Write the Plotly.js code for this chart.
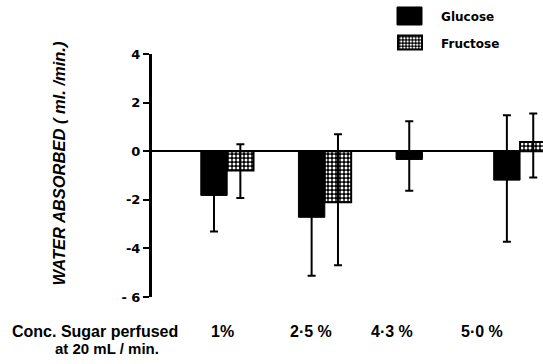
<!DOCTYPE html>
<html><head><meta charset="utf-8">
<script src="https://cdn.plot.ly/plotly-3.0.1.min.js"></script>
<style>html,body{margin:0;padding:0;background:#fff}#chart{width:543px;height:364px}</style>
</head><body><div id="chart"></div>
<script>
const categories = ['1%', '2·5 %', '4·3 %', '5·0 %'];
const glucose = [-1.82, -2.72, -0.34, -1.19];
const glucoseErrUp = [1.48, 2.41, 1.57, 2.67];
const glucoseErrDown = [1.48, 2.41, 1.29, 2.54];
const fructose = [-0.79, -2.10, null, 0.38];
const fructoseErrUp = [1.08, 2.8, null, 1.17];
const fructoseErrDown = [1.14, 2.59, null, 1.46];
const yTicks = [4, 2, 0, -2, -4, -6];
const yTickText = ['4', '2', '0', '-2', '-4', '- 6'];
const labelOffsets = [-0.05, -0.14, -0.31, -0.39];

const xs = categories.map((_, i) => i);
const font = 'Liberation Sans, Arial, sans-serif';
const lfont = 'DejaVu Sans, sans-serif';

const traces = [
  {type: 'bar', name: 'Glucose', x: xs, y: glucose, legend: 'legend',
   marker: {color: '#000', line: {color: '#000', width: 1}},
   error_y: {type: 'data', symmetric: false, array: glucoseErrUp, arrayminus: glucoseErrDown,
             color: '#000', thickness: 2, width: 4}},
  {type: 'bar', name: 'Fructose', x: xs, y: fructose, legend: 'legend2',
   marker: {color: '#000', line: {color: '#000', width: 2},
            pattern: {shape: '.', fgcolor: '#fff', bgcolor: '#000', size: 4, solidity: 0.45}},
   error_y: {type: 'data', symmetric: false, array: fructoseErrUp, arrayminus: fructoseErrDown,
             color: '#000', thickness: 2, width: 4}}
];

const annotations = categories.map((c, i) => ({
  text: c, x: i + labelOffsets[i], xref: 'x', y: -0.14, yref: 'paper',
  xanchor: 'center', yanchor: 'middle', showarrow: false,
  font: {family: font, size: 16, weight: 'bold', color: '#000'}
}));
annotations.push(
  {text: 'Conc. Sugar perfused', x: -0.146, xref: 'paper', y: -0.14, yref: 'paper',
   xanchor: 'center', yanchor: 'middle', showarrow: false,
   font: {family: font, size: 16, weight: 'bold', color: '#000'}},
  {text: 'at 20 mL / min.', x: -0.115, xref: 'paper', y: -0.21, yref: 'paper',
   xanchor: 'center', yanchor: 'middle', showarrow: false,
   font: {family: font, size: 15, weight: 'bold', color: '#000'}},
  {text: 'WATER ABSORBED ( ml. /min.)', x: -0.237, xref: 'paper', y: 0.551, yref: 'paper',
   xanchor: 'center', yanchor: 'middle', textangle: -90, showarrow: false,
   font: {family: font, size: 16.5, weight: 'bold', style: 'italic', color: '#000'}}
);

const legendCommon = {xanchor: 'left', yanchor: 'middle', bgcolor: 'rgba(0,0,0,0)',
  itemwidth: 41, borderwidth: 0,
  font: {family: lfont, size: 12, weight: 'bold', color: '#000'}};

const layout = {
  width: 543, height: 364,
  margin: {l: 152, r: 0, t: 54, b: 67},
  paper_bgcolor: '#fff', plot_bgcolor: '#fff',
  barmode: 'group', bargap: 0.46, bargroupgap: 0,
  showlegend: true,
  legend: Object.assign({x: 0.609, y: 1.156}, legendCommon),
  legend2: Object.assign({x: 0.609, y: 1.045}, legendCommon),
  xaxis: {range: [-0.77, 3.235], showticklabels: false, ticks: '', showline: false,
          showgrid: false, zeroline: false},
  yaxis: {range: [-6, 4], tickmode: 'array', tickvals: yTicks,
          ticktext: yTickText.map(t => '<b>' + t + '</b>'),
          ticks: 'outside', ticklen: 6, tickwidth: 2, tickcolor: '#000',
          showline: true, linewidth: 3, linecolor: '#000', showgrid: false,
          zeroline: true, zerolinecolor: '#000', zerolinewidth: 2,
          tickfont: {family: lfont, size: 13, weight: 'bold', color: '#000'}},
  annotations: annotations
};

// legend swatch boxes (pixel size and centre) to mimic the original key
const swatches = [
  {cx: 409.5, cy: 16, w: 25, h: 18},
  {cx: 410, cy: 42.5, w: 24, h: 14}
];

Plotly.newPlot('chart', traces, layout, {displayModeBar: false, staticPlot: true}).then(gd => {
  const root = gd.getBoundingClientRect();
  gd.querySelectorAll('.legendpoints path').forEach((p, i) => {
    const s = swatches[i];
    if (!s) return;
    const b = p.getBoundingClientRect();
    const cx = b.left + b.width / 2 - root.left;
    const cy = b.top + b.height / 2 - root.top;
    const ox = s.cx - cx, oy = s.cy - cy;
    const x0 = ox - s.w / 2, x1 = ox + s.w / 2, y0 = oy - s.h / 2, y1 = oy + s.h / 2;
    p.setAttribute('d', `M${x1},${y1}H${x0}V${y0}H${x1}Z`);
  });
});
</script>
</body></html>
